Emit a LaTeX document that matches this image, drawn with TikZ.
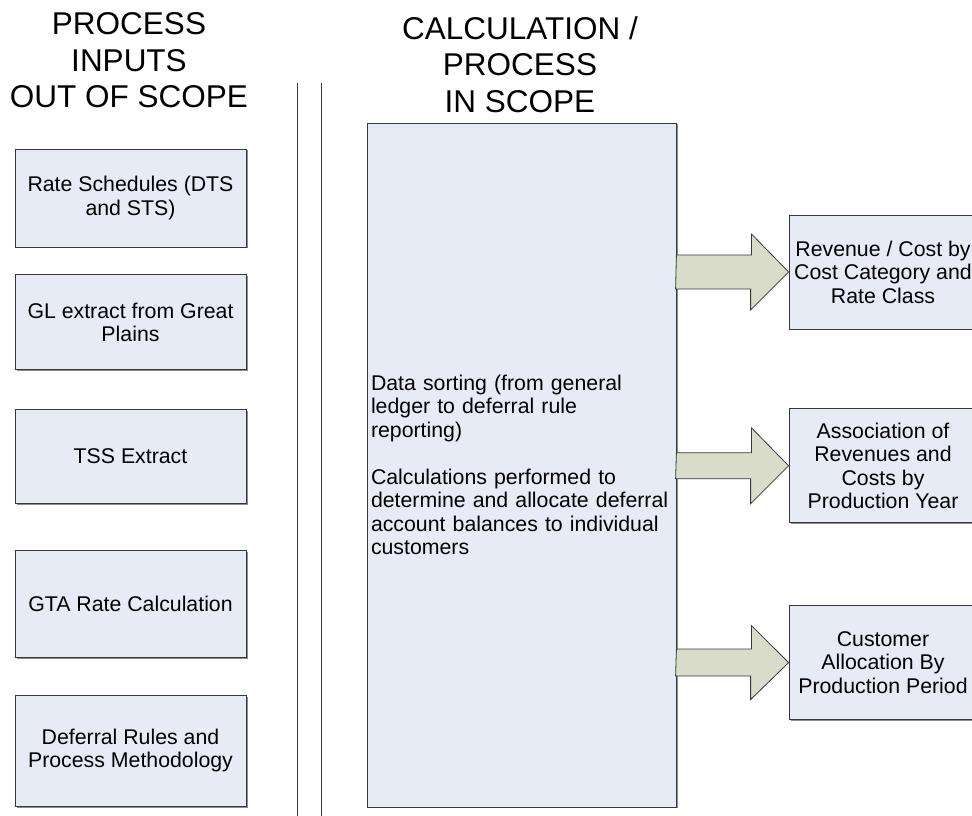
\documentclass[tikz,border=0pt]{standalone}
\usepackage{fontspec}
\setmainfont{Liberation Sans}
\usetikzlibrary{shapes,arrows,positioning,shadows}
\definecolor{boxfill}{HTML}{E7EBF5}
\definecolor{arrowfill}{HTML}{D9DCC8}
\definecolor{edgegray}{HTML}{383838}

\begin{document}
\begin{tikzpicture}[auto, x=1pt, y=1pt, node distance=27pt, >=latex',
	heading/.style={align=center, inner sep=0pt, font=\fontsize{31.5}{36.5}\selectfont},
	block/.style={draw=edgegray, fill=boxfill, line width=0.8pt, align=center, inner sep=4pt,
		font=\fontsize{21.3}{23.5}\selectfont,
		drop shadow={shadow xshift=1.5pt, shadow yshift=-1.5pt, fill=black!45, opacity=1}},
	inblock/.style={block, minimum width=231pt},
	outblock/.style={block, minimum width=188pt, minimum height=114pt},
	fatarrow/.style={draw=edgegray, fill=arrowfill, line width=0.8pt, line join=miter}]
	\useasboundingbox (0,0) rectangle (972,816);
	% Column headings
	\node [heading] (outhead) at (129,755.5) {PROCESS\\INPUTS\\OUT OF SCOPE};
	\node [heading] (inhead) at (520,751.5) {CALCULATION /\\PROCESS\\IN SCOPE};
	% Double rule between the two columns
	\coordinate (leftruletop) at (297,733);
	\coordinate (leftrulebot) at (297,0);
	\coordinate [right=24pt of leftruletop] (rightruletop);
	\coordinate [right=24pt of leftrulebot] (rightrulebot);
	% Inputs, top to bottom
	\node [inblock, minimum height=98pt] (rates) at (130.5,618) {Rate Schedules (DTS\\and STS)};
	\node [inblock, minimum height=95pt, below=27pt of rates] (glextract) {GL extract from Great\\Plains};
	\node [inblock, minimum height=94pt, below=39pt of glextract] (tss) {TSS Extract};
	\node [inblock, minimum height=107pt, below=46pt of tss] (gta) {GTA Rate Calculation};
	\node [inblock, minimum height=111pt, below=37pt of gta] (deferral) {Deferral Rules and\\Process Methodology};
	% The calculation block
	\node [block, minimum width=309pt, minimum height=684pt, text width=301pt, align=left] (calc) at (521.5,351)
		{Data sorting (from general\\ledger to deferral rule\\reporting)\\[23.5pt]Calculations performed to\\determine and allocate deferral\\account balances to individual\\customers};
	% Outputs
	\node [outblock] (revenue) at (883,544) {Revenue / Cost by\\Cost Category and\\Rate Class};
	\node [outblock, below=79pt of revenue] (assoc) {Association of\\Revenues and\\Costs by\\Production Year};
	\node [outblock, below=82pt of assoc] (custalloc) {Customer\\Allocation By\\Production Period};
	% Once the blocks are placed, the rules and block arrows follow
	\draw [edgegray, line width=0.8pt] (leftruletop) -- (leftrulebot);
	\draw [edgegray, line width=0.8pt] (rightruletop) -- (rightrulebot);
	\draw [fatarrow] (calc.east |- revenue.west) ++(0,17) -- ++(75,0) -- ++(0,21) -- (revenue.west) -- ++(-38,-38) -- ++(0,21) -- ++(-75,0) -- cycle;
	\draw [fatarrow] (calc.east |- assoc.west) ++(0,13) -- ++(75,0) -- ++(0,25) -- (assoc.west) -- ++(-38,-38) -- ++(0,25) -- ++(-75,0) -- cycle;
	\draw [fatarrow] (calc.east |- custalloc.west) ++(0,13.5) -- ++(75,0) -- ++(0,23.5) -- (custalloc.west) -- ++(-38,-37) -- ++(0,23.5) -- ++(-75,0) -- cycle;
\end{tikzpicture}
\end{document}
